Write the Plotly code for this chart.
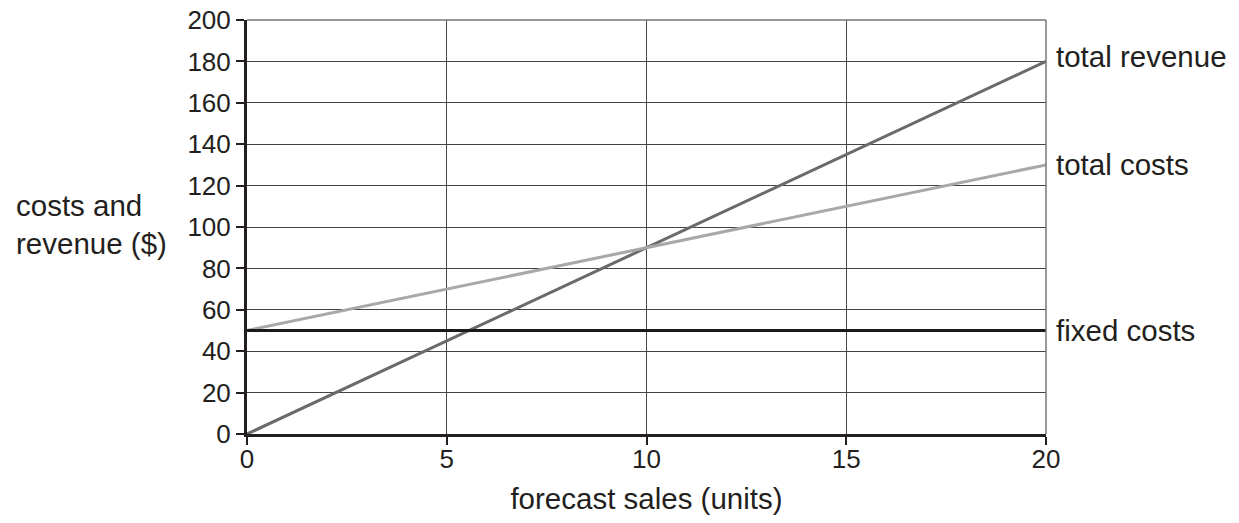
import plotly.graph_objects as go

units = [0, 20]
total_revenue = [0, 180]
total_costs = [50, 130]
fixed_costs = [50, 50]

x_ticks = [0, 5, 10, 15, 20]
y_ticks = list(range(0, 201, 20))

series = [
    ("total revenue", total_revenue, "#6a6a6a", 3, 5),
    ("total costs", total_costs, "#a8a8a8", 3, 0),
    ("fixed costs", fixed_costs, "#1a1a1a", 3, 0),
]

FONT = "Liberation Sans, Arial, sans-serif"
LBL = 29.5
TICK = 26

fig = go.Figure()
for name, vals, col, w, ys in series:
    fig.add_trace(go.Scatter(x=units, y=vals, mode="lines", name=name,
                             line=dict(color=col, width=w), showlegend=False,
                             cliponaxis=False))
    fig.add_annotation(x=1.0, xref="paper", y=vals[-1], yref="y", text=name,
                       showarrow=False, xanchor="left", yanchor="middle",
                       xshift=8, yshift=ys,
                       font=dict(family=FONT, size=LBL, color="#231f20"))

fig.add_annotation(x=-0.292, xref="paper", y=0.505, yref="paper",
                   text="costs and<br>revenue ($)", showarrow=False,
                   xanchor="left", yanchor="middle", align="left",
                   font=dict(family=FONT, size=LBL, color="#231f20"))

fig.update_layout(
    width=1231, height=515,
    margin=dict(l=239, r=193, t=12, b=89),
    paper_bgcolor="white", plot_bgcolor="white",
    font=dict(family=FONT, size=TICK, color="#231f20"),
)
fig.update_xaxes(range=[0, 20], tickvals=x_ticks, ticks="outside", ticklen=8,
                 tickwidth=2, tickcolor="#231f20", automargin=False,
                 showgrid=True, gridcolor="#444444", gridwidth=1,
                 showline=True, linecolor="#231f20", linewidth=3,
                 mirror=False, zeroline=False, ticklabeloverflow="allow",
                 ticklabelstandoff=-8,
                 title=dict(text="forecast sales (units)", standoff=16,
                            font=dict(size=LBL)),
                 tickfont=dict(size=TICK))
fig.update_yaxes(range=[0, 200], tickvals=y_ticks, ticks="outside", ticklen=8,
                 tickwidth=2, tickcolor="#231f20", automargin=False,
                 showgrid=True, gridcolor="#444444", gridwidth=1,
                 showline=True, linecolor="#231f20", linewidth=3,
                 zeroline=False, ticklabeloverflow="allow",
                 tickfont=dict(size=TICK))

# right border and top border
fig.add_shape(type="line", xref="paper", yref="paper", x0=1, x1=1, y0=0, y1=1,
              line=dict(color="#777777", width=1.5))
fig.add_shape(type="line", xref="paper", yref="paper", x0=0, x1=1, y0=1, y1=1,
              line=dict(color="#777777", width=1.5))

fig.write_html("out.html")
